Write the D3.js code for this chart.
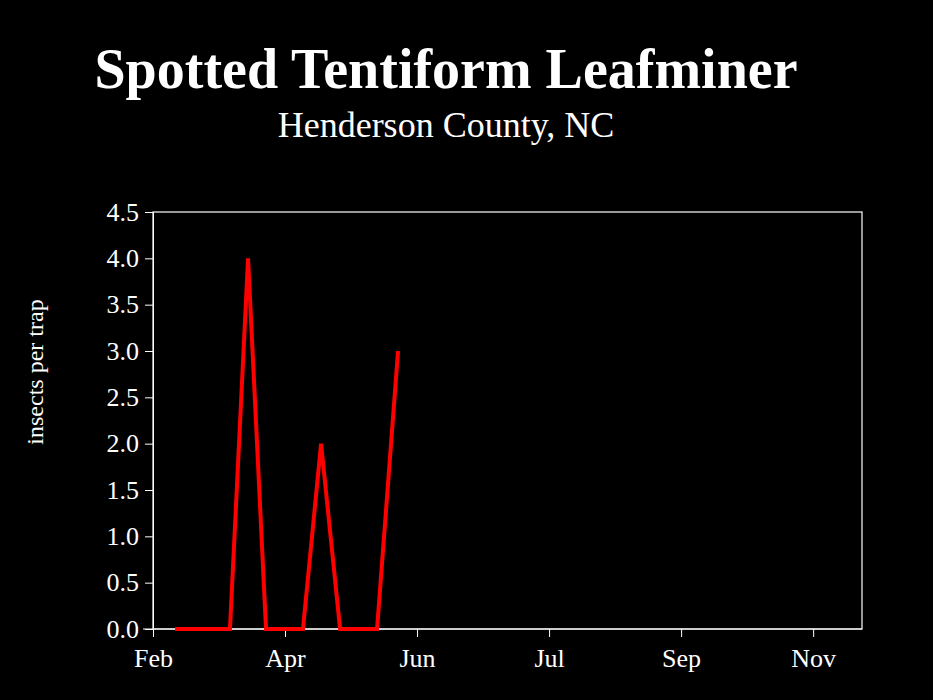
<!DOCTYPE html>
<html><head><meta charset="utf-8">
<script src="https://cdn.jsdelivr.net/npm/d3@7"></script>
<style>body{margin:0;background:#000}text{font-family:"Liberation Serif",serif;fill:#fff}</style>
</head><body>
<script>
// Data: month ticks and weekly trap counts (position in month-tick units)
const monthLabels = ["Feb", "Apr", "Jun", "Jul", "Sep", "Nov"];
const sampleT = [0.167, 0.583, 0.72, 0.856, 1.136, 1.273, 1.417, 1.697, 1.856];
const counts = [0, 0, 4, 0, 0, 2, 0, 0, 3];
const yTicks = [0, 0.5, 1, 1.5, 2, 2.5, 3, 3.5, 4, 4.5];

const margin = {top: 212, right: 71, bottom: 71, left: 153},
      width = 933 - margin.left - margin.right,
      height = 700 - margin.top - margin.bottom;

const root = d3.select("body").append("svg").attr("width", 933).attr("height", 700);
root.append("rect").attr("width", 933).attr("height", 700).attr("fill", "#000");

root.append("text").attr("x", 446).attr("y", 88).attr("text-anchor", "middle")
  .style("font-size", "56px").style("font-weight", "bold").text("Spotted Tentiform Leafminer");
root.append("text").attr("x", 446).attr("y", 137).attr("text-anchor", "middle")
  .style("font-size", "36px").text("Henderson County, NC");

const svg = root.append("g").attr("transform", "translate(" + margin.left + "," + margin.top + ")");

const x = d3.scaleLinear().domain([0, 5.37]).range([0, width]);
const y = d3.scaleLinear().domain([0, 4.5]).range([height, 0]);

// frame
svg.append("rect").attr("width", width).attr("height", height)
  .attr("fill", "none").attr("stroke", "#fff").attr("stroke-width", 1.2);

const xAxis = svg.append("g").attr("transform", "translate(0," + height + ")")
  .call(d3.axisBottom(x).tickValues(d3.range(monthLabels.length))
    .tickFormat(i => monthLabels[i]).tickSize(8).tickPadding(12));
const yAxis = svg.append("g")
  .call(d3.axisLeft(y).tickValues(yTicks).tickFormat(d3.format(".1f")).tickSize(8).tickPadding(6));
[xAxis, yAxis].forEach(a => {
  a.attr("font-size", 26).attr("font-family", "Liberation Serif");
  a.selectAll("path").attr("stroke", "#fff");
  a.selectAll("line").attr("stroke", "#fff");
  a.selectAll("text").style("font-size", "26px").attr("fill", "#fff");
});
xAxis.select(".domain").attr("d", "M-10,0H" + width);

root.append("text").attr("transform", "translate(43,372) rotate(-90)")
  .attr("text-anchor", "middle").style("font-size", "24px").text("insects per trap");

svg.append("path")
  .datum(counts.map((c, i) => [sampleT[i], c]))
  .attr("fill", "none").attr("stroke", "#ff0000").attr("stroke-width", 4)
  .attr("d", d3.line().x(d => x(d[0])).y(d => y(d[1])));
</script>
</body></html>
